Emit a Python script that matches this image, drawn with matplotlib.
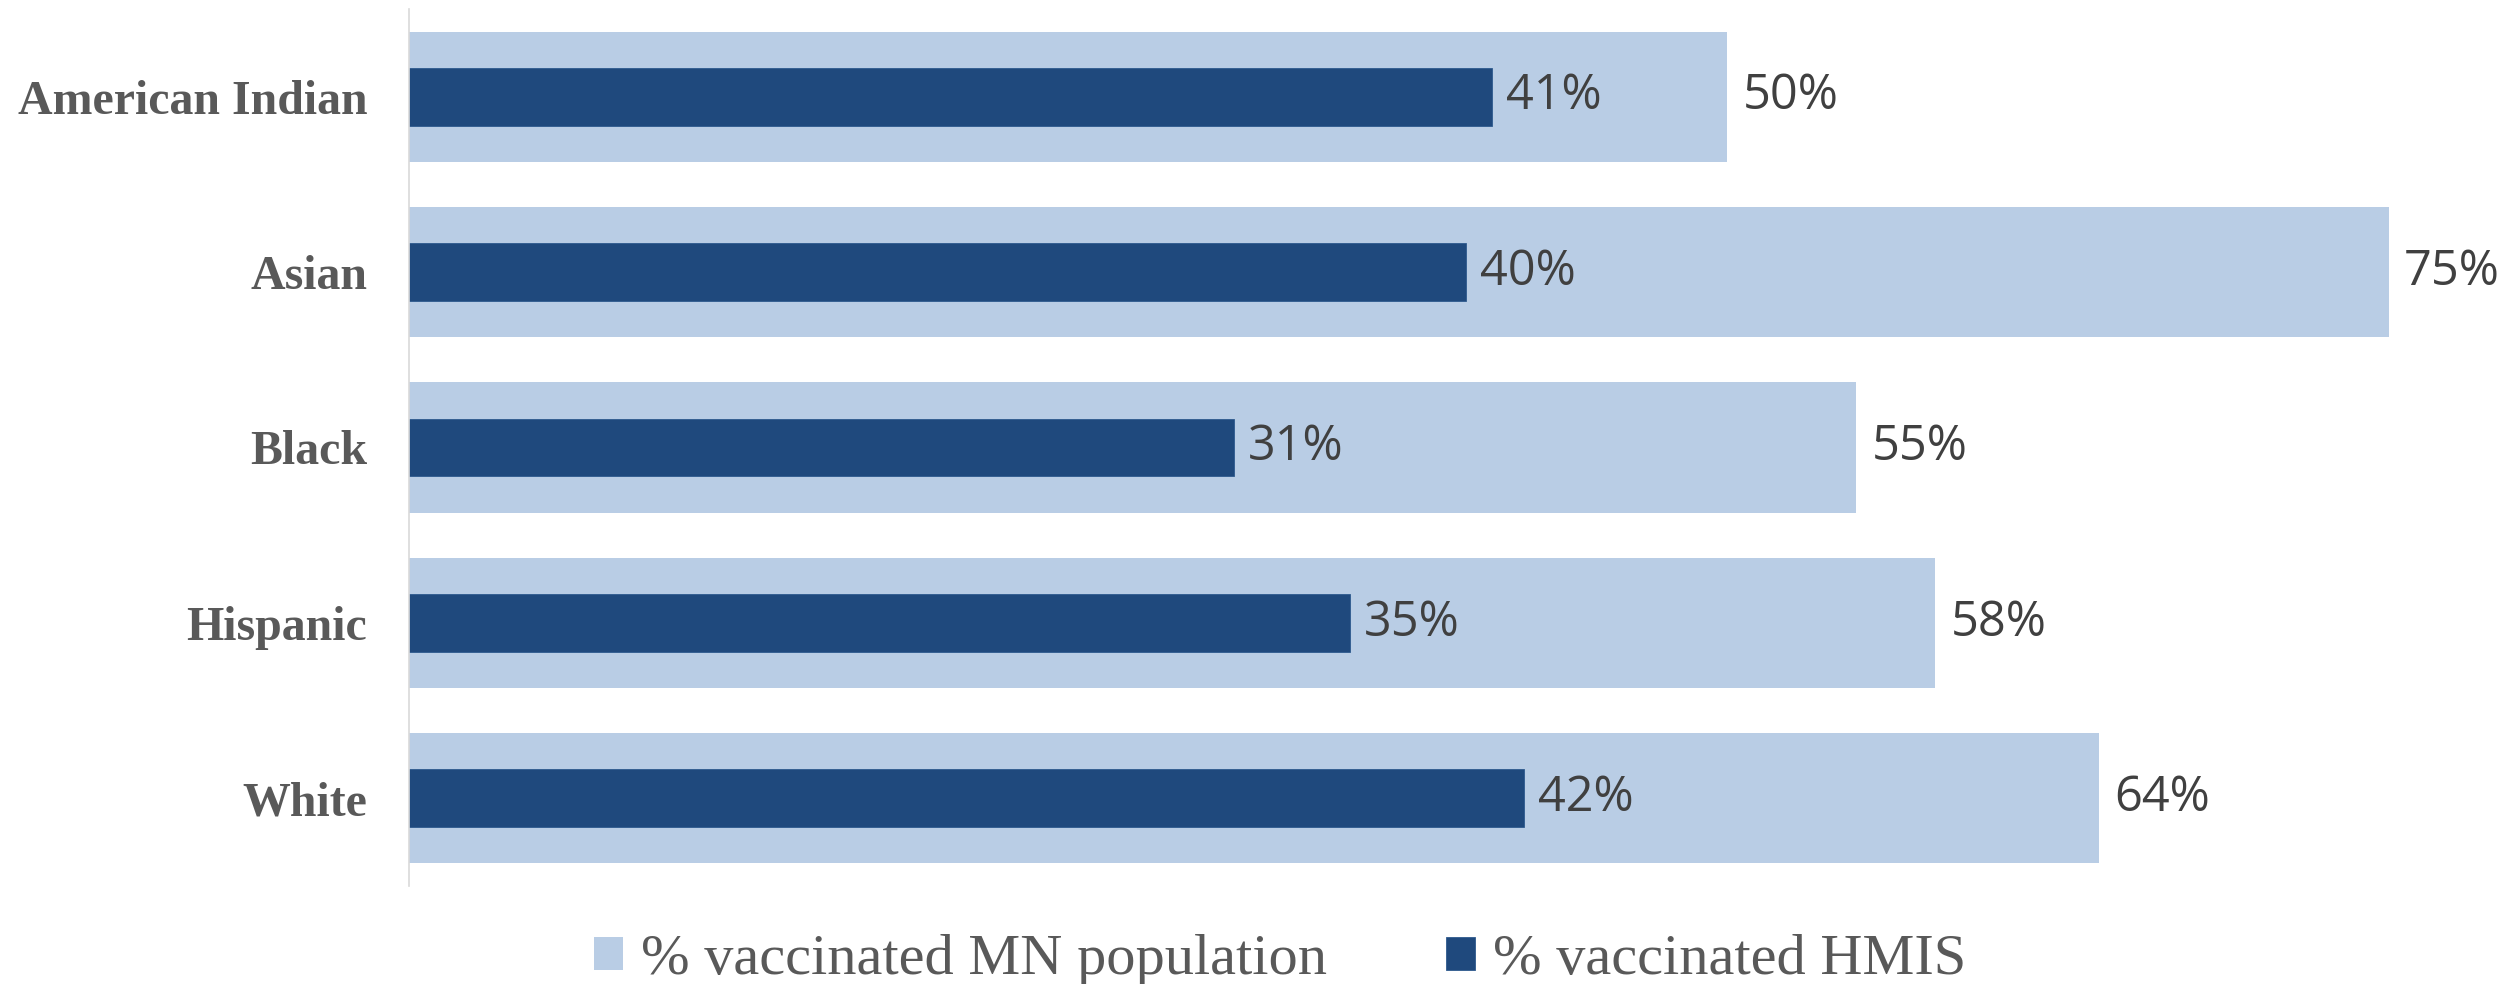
import numpy as np
import matplotlib.pyplot as plt

# data
groups = ['American Indian', 'Asian', 'Black', 'Hispanic', 'White']
mn_pop = [50.0, 75.1, 54.9, 57.9, 64.1]     # % vaccinated MN population
hmis = [41.1, 40.1, 31.3, 35.7, 42.3]       # % vaccinated HMIS
mn_labels = ['50%', '75%', '55%', '58%', '64%']
hmis_labels = ['41%', '40%', '31%', '35%', '42%']

light = '#B9CDE5'
dark = '#1F497D'

fig = plt.figure(figsize=(25.19, 9.84), dpi=100)
ax = fig.add_axes([409 / 2519, 98 / 984, 2109 / 2519, 877 / 984])

y = np.arange(len(groups))
b1 = ax.barh(y, mn_pop, height=0.742, color=light, label='% vaccinated MN population')
b2 = ax.barh(y, hmis, height=0.33, color=dark, edgecolor='#2E5A8E', linewidth=0.6,
             label='% vaccinated HMIS')

ax.set_xlim(0, 80)
ax.set_ylim(len(groups) - 0.5, -0.5)
ax.set_yticks(y)
ax.set_yticklabels(groups, family='Liberation Serif', fontweight='bold',
                   fontsize=34.5, color='#595959')
ax.tick_params(axis='y', length=0, pad=30)
ax.set_xticks([])

for s in ['top', 'right', 'bottom']:
    ax.spines[s].set_visible(False)
ax.spines['left'].set_color('#D9D9D9')
ax.spines['left'].set_linewidth(1.2)

for v, lab, yy in zip(mn_pop, mn_labels, y):
    ax.annotate(lab, (v, yy), xytext=(11, 0), textcoords='offset points',
                va='center', ha='left', fontsize=35, family='Open Sans', color='#404040')
for v, lab, yy in zip(hmis, hmis_labels, y):
    ax.annotate(lab, (v, yy), xytext=(10, 0), textcoords='offset points',
                va='center', ha='left', fontsize=35, family='Open Sans', color='#404040')

fig.legend(handles=[b1, b2], loc='center', bbox_to_anchor=(1280 / 2519, 1 - 960 / 984),
           ncol=2, frameon=False, prop={'family': 'Liberation Serif', 'size': 42},
           handlelength=0.5, handleheight=0.5, handletextpad=0.3, columnspacing=2.05,
           labelcolor='#595959')

fig.savefig('out.png', dpi=100)
